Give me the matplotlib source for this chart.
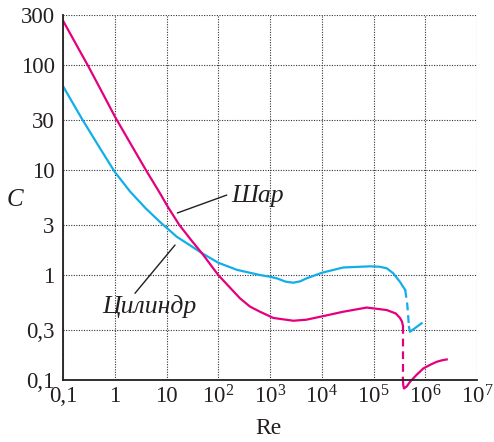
import matplotlib.pyplot as plt
from matplotlib.ticker import NullLocator

plt.rcParams['font.family'] = 'Liberation Serif'
plt.rcParams['mathtext.fontset'] = 'custom'
plt.rcParams['mathtext.rm'] = 'Liberation Serif'
plt.rcParams['mathtext.it'] = 'Liberation Serif:italic'

# sphere (Шар): solid part, dashed drop, solid tail
re_sphere = [0.1, 0.2, 0.31, 0.6, 1, 2, 4, 7.5, 10.8, 17.7, 30, 50, 100, 160, 263, 411,
             641, 1160, 2820, 5000, 9250, 2.6e4, 7.4e4, 1.8e5, 2.7e5, 3.25e5, 3.55e5, 3.7e5]
c_sphere = [265, 143, 97, 52.5, 32.5, 18, 10, 6.0, 4.4, 3.0, 2.15, 1.58, 1.0, 0.78, 0.6, 0.5,
            0.447, 0.39, 0.367, 0.375, 0.40, 0.447, 0.49, 0.464, 0.43, 0.39, 0.36, 0.33]
re_sphere_drop = [3.7e5, 3.7e5]
c_sphere_drop = [0.33, 0.104]
re_sphere_tail = [3.7e5, 3.75e5, 3.88e5, 4.4e5, 5.07e5, 6.8e5, 9.2e5, 1.3e6, 1.66e6, 2.1e6, 2.6e6]
c_sphere_tail = [0.104, 0.09, 0.083, 0.087, 0.096, 0.112, 0.129, 0.141, 0.149, 0.154, 0.157]

# cylinder (Цилиндр)
re_cyl = [0.1, 0.23, 0.5, 1, 2, 4, 7.5, 15.7, 28, 50, 100, 230, 641, 1000, 1350, 2000, 2820,
          3800, 5100, 1e4, 2.6e4, 8.6e4, 1.3e5, 1.8e5, 2.4e5, 3.25e5, 4.1e5]
c_cyl = [63, 31, 16.6, 9.6, 6.2, 4.3, 3.2, 2.32, 1.93, 1.6, 1.31, 1.12, 1.0, 0.964, 0.93, 0.865,
         0.845, 0.87, 0.93, 1.05, 1.18, 1.21, 1.2, 1.16, 1.04, 0.86, 0.72]
re_cyl_drop = [4.1e5, 4.5e5, 4.85e5]
c_cyl_drop = [0.72, 0.52, 0.32]
re_cyl_tail = [4.85e5, 5.07e5, 6.5e5, 8.5e5]
c_cyl_tail = [0.32, 0.288, 0.315, 0.347]

x_ticks = [0.1, 1, 10, 1e2, 1e3, 1e4, 1e5, 1e6, 1e7]
x_labels = ['0,1', '1', '10', '$10^2$', '$10^3$', '$10^4$', '$10^5$', '$10^6$', '$10^7$']
y_ticks = [0.1, 0.3, 1, 3, 10, 30, 100, 300]
y_labels = ['0,1', '0,3', '1', '3', '10', '30', '100', '300']

magenta = '#e4007d'
cyan = '#12aee8'
ink = '#231f20'

fig = plt.figure(figsize=(4.94, 4.42), dpi=100)
ax = fig.add_axes([63 / 494, 62 / 442, 414 / 494, 365 / 442])
ax.set_xscale('log')
ax.set_yscale('log')
ax.set_xlim(0.1, 1e7)
ax.set_ylim(0.1, 300)

lw = 1.6
dash = (0, (3.5, 2.2))
ax.plot(re_cyl, c_cyl, color=cyan, lw=lw, zorder=3, solid_joinstyle='round')
ax.plot(re_cyl_drop, c_cyl_drop, color=cyan, lw=lw, ls=dash, zorder=3)
ax.plot(re_cyl_tail, c_cyl_tail, color=cyan, lw=lw, zorder=3, solid_joinstyle='round')
ax.plot(re_sphere, c_sphere, color=magenta, lw=lw, zorder=4, solid_joinstyle='round')
ax.plot(re_sphere_drop, c_sphere_drop, color=magenta, lw=lw, ls=dash, zorder=4)
ax.plot(re_sphere_tail, c_sphere_tail, color=magenta, lw=lw, zorder=4, clip_on=False,
        solid_joinstyle='round')

ax.set_xticks(x_ticks)
ax.set_xticklabels(x_labels)
ax.set_yticks(y_ticks)
ax.set_yticklabels(y_labels)
ax.xaxis.set_minor_locator(NullLocator())
ax.yaxis.set_minor_locator(NullLocator())
ax.tick_params(length=0, labelsize=16.5, colors=ink)
ax.tick_params(axis='x', pad=4)
ax.tick_params(axis='y', pad=6)

ax.grid(True, color='#333333', lw=0.8, ls=(0, (1, 1.3)))
for s in ['top', 'right']:
    ax.spines[s].set_visible(False)
for s in ['left', 'bottom']:
    ax.spines[s].set_linewidth(1.3)
    ax.spines[s].set_color(ink)
    ax.spines[s].set_zorder(5)

# labels with leader lines
ax.annotate('', xy=(16.2, 3.9), xytext=(146, 5.78),
            arrowprops=dict(arrowstyle='-', color=ink, lw=1.0, shrinkA=0, shrinkB=0))
ax.text(182, 5.0, 'Шар', style='italic', fontsize=18.5, color=ink,
        ha='left', va='baseline')
ax.annotate('', xy=(14.6, 1.93), xytext=(2.46, 0.67),
            arrowprops=dict(arrowstyle='-', color=ink, lw=1.0, shrinkA=0, shrinkB=0))
ax.text(0.57, 0.434, 'Цилиндр', style='italic', fontsize=18.5, color=ink,
        ha='left', va='baseline')

fig.text(14.5 / 494, 1 - 200 / 442, 'C', style='italic', fontsize=18,
         color=ink, ha='center', va='center')
fig.text(268 / 494, 1 - 428 / 442, 'Re', fontsize=17, color=ink,
         ha='center', va='center')

fig.savefig('out.png', dpi=100)
